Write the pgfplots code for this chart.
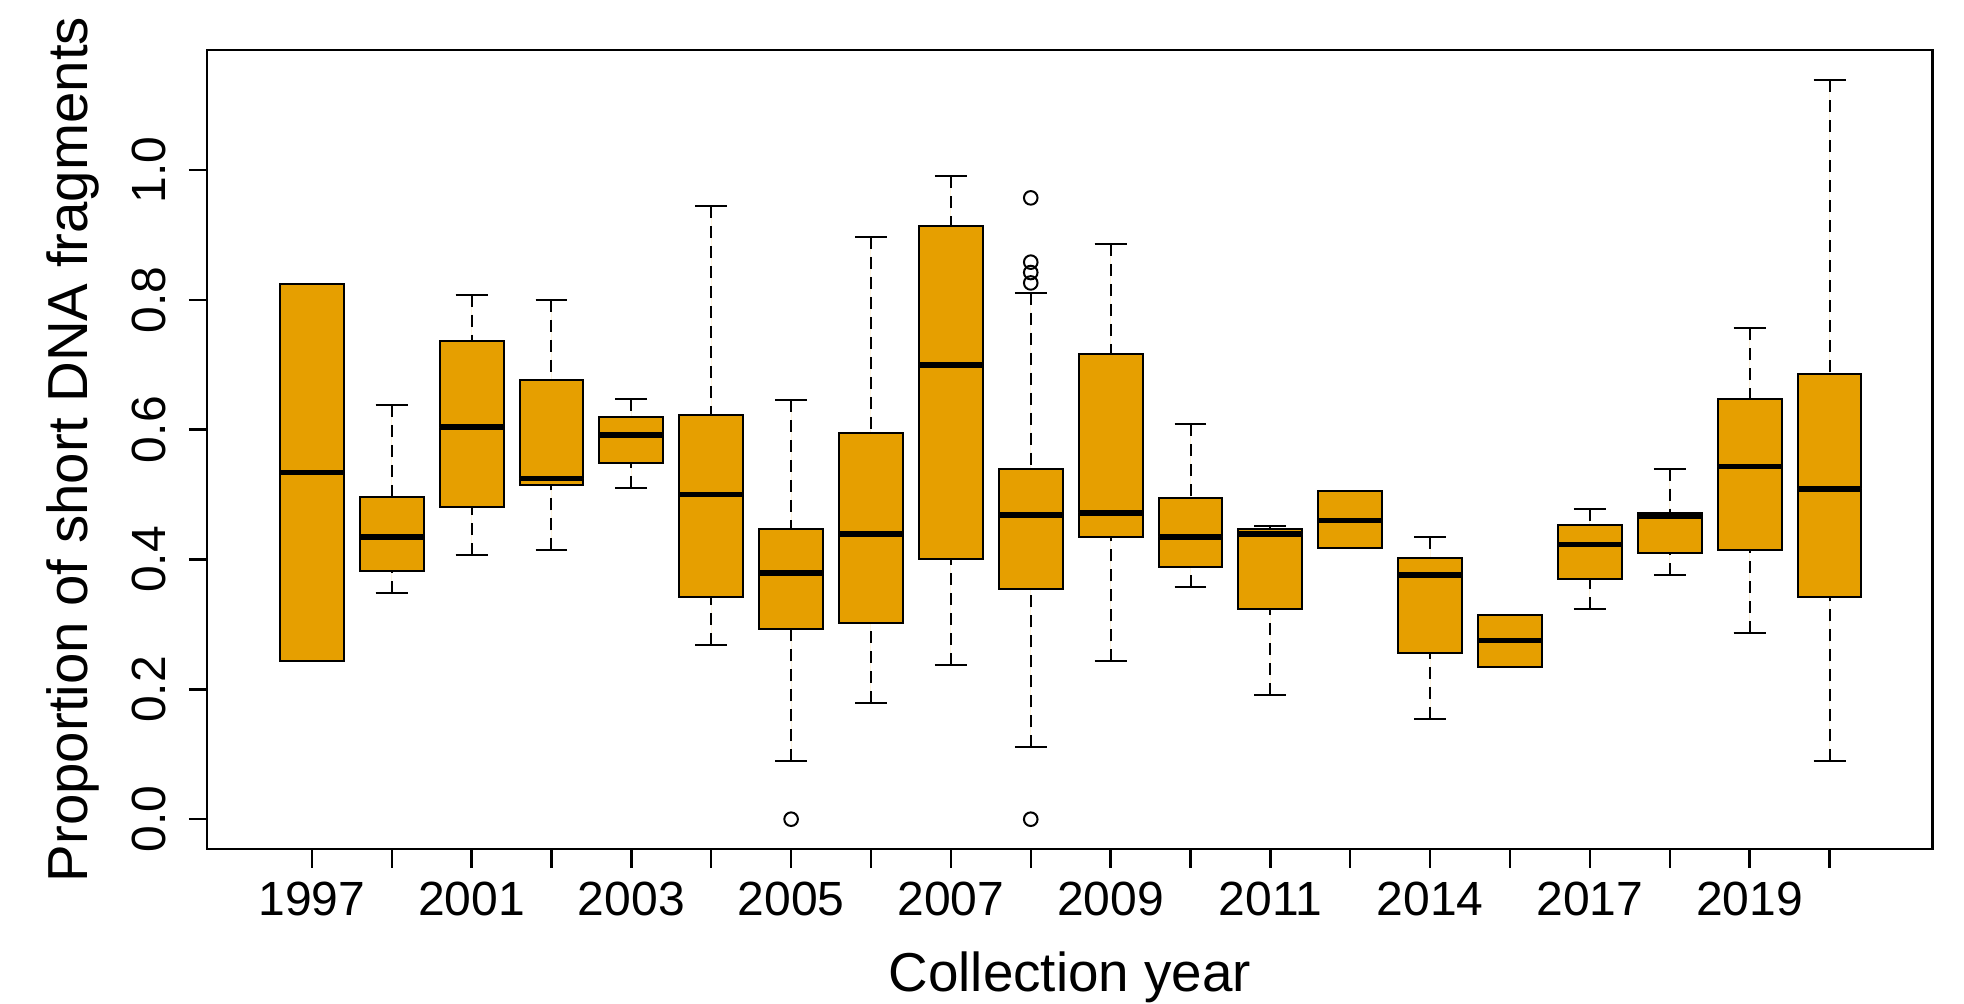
\documentclass[border=0pt]{standalone}
\usepackage{pgfplots}
\pgfplotsset{compat=1.18}
\usepgfplotslibrary{statistics}
\usepackage{fontspec}
\setmainfont{Liberation Sans}
\definecolor{boxorange}{HTML}{E69F00}
\pgfplotsset{
  rbox/.style={
    draw=black, fill=boxorange, line width=0.5pt,
    boxplot/draw direction=y,
    boxplot/box extend=0.8,
    boxplot/whisker extend=0.4,
    boxplot/every median/.style={line width=1.4pt},
    boxplot/draw/lower whisker/.code={%
      \draw[line width=0.5pt, dash pattern=on 3pt off 2pt]
        (boxplot cs:\pgfplotsboxplotvalue{lower whisker})
        -- (boxplot cs:\pgfplotsboxplotvalue{lower quartile});
      \draw[line width=0.5pt]
        (boxplot whisker cs:\pgfplotsboxplotvalue{lower whisker},0)
        -- (boxplot whisker cs:\pgfplotsboxplotvalue{lower whisker},1);
    },
    boxplot/draw/upper whisker/.code={%
      \draw[line width=0.5pt, dash pattern=on 3pt off 2pt]
        (boxplot cs:\pgfplotsboxplotvalue{upper whisker})
        -- (boxplot cs:\pgfplotsboxplotvalue{upper quartile});
      \draw[line width=0.5pt]
        (boxplot whisker cs:\pgfplotsboxplotvalue{upper whisker},0)
        -- (boxplot whisker cs:\pgfplotsboxplotvalue{upper whisker},1);
    },
  }
}
\newcommand{\rbox}[6]{%
  \addplot[rbox, boxplot prepared={draw position=#1,
    lower whisker=#2, lower quartile=#3, median=#4,
    upper quartile=#5, upper whisker=#6}] coordinates {};}
\begin{document}
\begin{tikzpicture}
\path[use as bounding box] (-51.8pt,-38.7pt) rectangle (439.2pt,212.3pt);
\begin{axis}[
  scale only axis, width=431.35pt, height=199.8pt,
  xmin=-0.31, xmax=21.29, ymin=-0.0462, ymax=1.1848,
  axis line style={line width=0.6pt},
  xtick={1,...,20},
  xticklabels={1997,,2001,,2003,,2005,,2007,,2009,,2011,,2014,,2017,,2019,},
  ytick={0,0.2,0.4,0.6,0.8,1.0},
  yticklabels={0.0,0.2,0.4,0.6,0.8,1.0},
  tick align=outside, major tick length=4.6pt,
  xtick pos=left, ytick pos=left,
  tick style={black, line width=0.6pt},
  ticklabel style={font=\fontsize{12}{14}\selectfont},
  yticklabel style={rotate=90, anchor=south, yshift=2.15pt},
  xlabel={Collection year},
  ylabel={Proportion of short DNA fragments},
  xlabel style={font=\fontsize{13.7}{16}\selectfont, at={(axis description cs:0.5,0)}, anchor=base, yshift=-35.5pt},
  ylabel style={font=\fontsize{14.1}{16}\selectfont, at={(axis description cs:0,0.5)}, anchor=base, yshift=30pt},
]
\rbox{1}{0.243}{0.243}{0.534}{0.824}{0.824}
\rbox{2}{0.349}{0.382}{0.435}{0.497}{0.638}
\rbox{3}{0.407}{0.481}{0.604}{0.737}{0.808}
\rbox{4}{0.414}{0.515}{0.525}{0.676}{0.800}
\rbox{5}{0.510}{0.549}{0.592}{0.620}{0.647}
\rbox{6}{0.268}{0.342}{0.500}{0.623}{0.944}
\rbox{7}{0.089}{0.293}{0.379}{0.447}{0.645}
\rbox{8}{0.179}{0.302}{0.439}{0.595}{0.897}
\rbox{9}{0.238}{0.401}{0.700}{0.913}{0.990}
\rbox{10}{0.111}{0.354}{0.469}{0.539}{0.811}
\rbox{11}{0.243}{0.435}{0.472}{0.716}{0.886}
\rbox{12}{0.357}{0.388}{0.435}{0.494}{0.608}
\rbox{13}{0.192}{0.324}{0.439}{0.447}{0.452}
\rbox{14}{0.417}{0.417}{0.460}{0.506}{0.506}
\rbox{15}{0.155}{0.256}{0.376}{0.403}{0.435}
\rbox{16}{0.234}{0.234}{0.275}{0.314}{0.314}
\rbox{17}{0.324}{0.370}{0.423}{0.453}{0.478}
\rbox{18}{0.376}{0.410}{0.467}{0.471}{0.540}
\rbox{19}{0.287}{0.414}{0.543}{0.647}{0.756}
\rbox{20}{0.089}{0.342}{0.509}{0.685}{1.138}
\addplot[only marks, mark=o, mark size=1.7pt, black, line width=0.5pt]
  coordinates {(7,0) (10,0) (10,0.957) (10,0.858) (10,0.842) (10,0.826)};
\end{axis}
\end{tikzpicture}
\end{document}
